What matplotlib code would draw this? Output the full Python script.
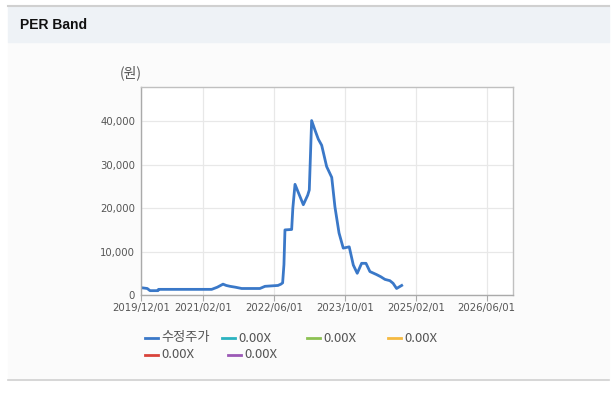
import numpy as np
import matplotlib.pyplot as plt
import matplotlib.dates as mdates
from matplotlib.patches import Rectangle
from matplotlib.lines import Line2D

# 수정주가 (adjusted price)
dates = ['2019-12-01', '2020-01-15', '2020-02-03', '2020-03-29', '2020-04-01',
         '2021-04-01', '2021-05-10', '2021-06-18', '2021-07-10', '2021-08-05',
         '2021-09-10', '2021-10-24', '2022-02-26', '2022-04-02', '2022-06-30',
         '2022-07-20', '2022-08-01', '2022-08-10', '2022-08-17', '2022-10-02',
         '2022-10-10', '2022-10-25', '2022-12-21', '2023-01-20', '2023-01-31',
         '2023-02-16', '2023-03-11', '2023-04-03', '2023-04-26', '2023-05-30',
         '2023-07-04', '2023-07-26', '2023-08-23', '2023-09-21', '2023-11-01',
         '2023-11-29', '2023-12-26', '2024-01-25', '2024-02-24', '2024-03-22',
         '2024-05-07', '2024-06-05', '2024-07-03', '2024-08-06', '2024-08-28',
         '2024-09-21', '2024-10-26']
price = [1700, 1500, 1000, 1000, 1300,
         1300, 1800, 2500, 2200, 2000,
         1800, 1500, 1500, 2000, 2200,
         2500, 2800, 7000, 15000, 15100,
         20000, 25500, 20800, 23000, 24200,
         40200, 38000, 35900, 34500, 29600,
         27100, 20300, 14300, 10800, 11100,
         6900, 5000, 7300, 7300, 5400,
         4700, 4200, 3600, 3300, 2700,
         1500, 2200]

x_ticks = ['2019-12-01', '2021-02-01', '2022-06-01', '2023-10-01', '2025-02-01', '2026-06-01']
y_ticks = [0, 10000, 20000, 30000, 40000]

legend_labels = ['수정주가', '0.00X', '0.00X', '0.00X', '0.00X', '0.00X']
legend_colors = ['#3a78c8', '#2bb3c0', '#8cc152', '#f5b940', '#d9433a', '#9b59b6']

plt.rcParams['font.family'] = ['DejaVu Sans', 'Noto Sans CJK KR']
KR = ['Noto Sans CJK KR', 'DejaVu Sans']

fig = plt.figure(figsize=(6.12, 3.95), dpi=100)
W, H = 612, 395

def fx(px):
    return px / W

def fy(py):
    return 1 - py / H

# page panels
fig.patches.append(Rectangle((fx(8), fy(380)), fx(601), fy(42) - fy(380),
                             transform=fig.transFigure, color='#fbfbfb', zorder=-5))
fig.patches.append(Rectangle((fx(8), fy(42)), fx(601), fy(6) - fy(42),
                             transform=fig.transFigure, color='#eef2f6', zorder=-5))
fig.lines.append(Line2D([fx(8), fx(609)], [fy(6), fy(6)], transform=fig.transFigure,
                        color='#d0d0d0', lw=1.5))
fig.lines.append(Line2D([fx(8), fx(609)], [fy(380), fy(380)], transform=fig.transFigure,
                        color='#d0d0d0', lw=1.2))
fig.text(fx(20), fy(25), 'PER Band', fontsize=10, fontweight='bold',
         family='Liberation Sans', va='center', color='#111111')

ax = fig.add_axes([fx(140.7), fy(295), fx(513.3 - 140.7), fy(86.7) - fy(295)])
ax.set_zorder(2)
ax.set_facecolor('white')
d = np.array(dates, dtype='datetime64[D]')
ax.plot(d, price, color=legend_colors[0], lw=2.0, solid_joinstyle='round')

ax.set_xlim(np.datetime64('2019-12-01'), np.datetime64('2026-12-01'))
ax.set_ylim(0, 48000)
ax.set_xticks(np.array(x_ticks, dtype='datetime64[D]'))
ax.xaxis.set_major_formatter(mdates.DateFormatter('%Y/%m/%d'))
ax.set_yticks(y_ticks)
ax.set_yticklabels([f'{v:,}' for v in y_ticks])
ax.grid(True, color='#e8e8e8', lw=0.9)
ax.set_axisbelow(True)
ax.tick_params(labelsize=7.3, colors='#555555', length=0, pad=4)
ax.tick_params(axis='x', length=4, color='#aaaaaa', direction='out', pad=2)
for s in ax.spines.values():
    s.set_color('#c0c0c0')
    s.set_linewidth(1)
ax.spines['bottom'].set_color('#aaaaaa')
ax.spines['left'].set_color('#aaaaaa')

fig.text(fx(120), fy(73), '(원)', fontsize=10, family=KR, color='#555555', va='center')

# legend
pos = [(145, 338), (222, 338), (307, 338), (388, 338), (145, 355), (228, 355)]
for (lx, ly), lab, col in zip(pos, legend_labels, legend_colors):
    fig.lines.append(Line2D([fx(lx), fx(lx + 13)], [fy(ly), fy(ly)],
                            transform=fig.transFigure, color=col, lw=2))
    fig.text(fx(lx + 16), fy(ly), lab, fontsize=9.5, color='#555555', va='center',
             family=KR)

fig.savefig('out.png', dpi=100)
